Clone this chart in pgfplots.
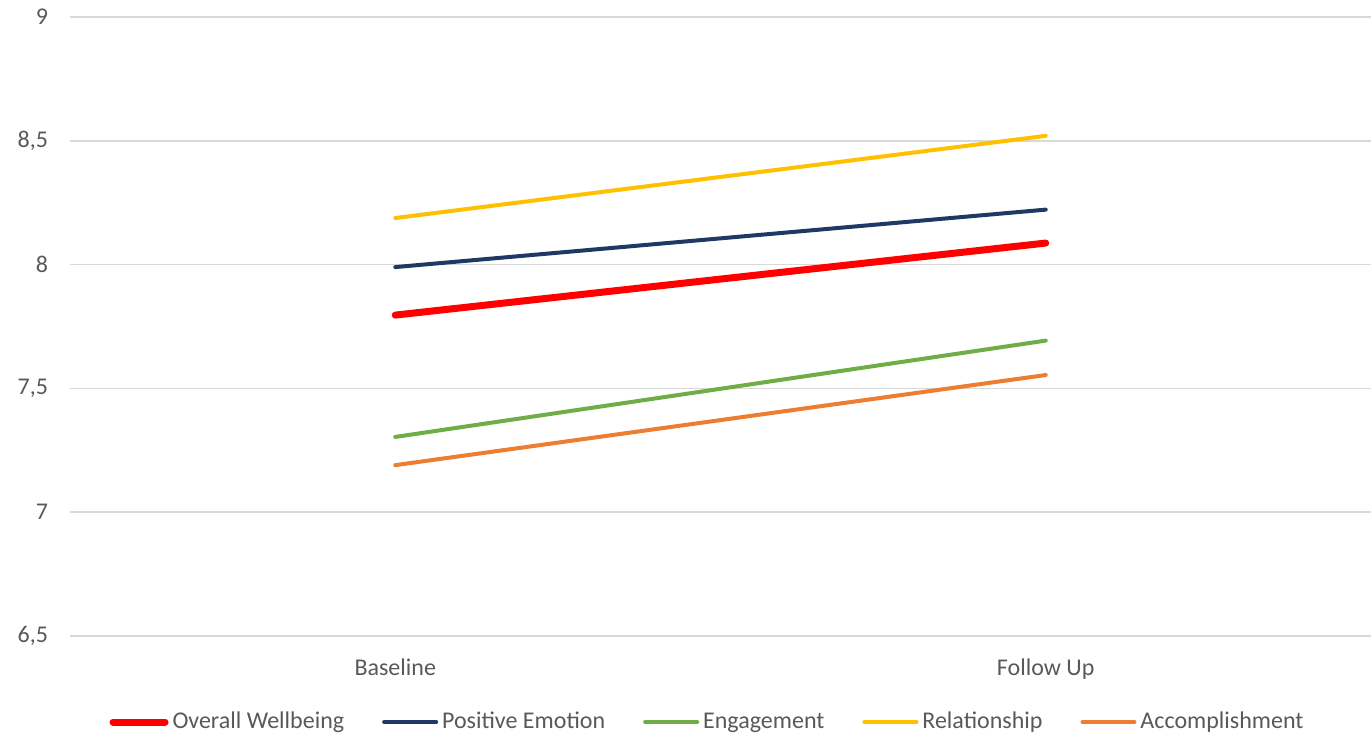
\documentclass[border=0pt]{standalone}
\usepackage{pgfplots}
\pgfplotsset{compat=1.18}
\usepackage{fontspec}
\setmainfont{Carlito}
\definecolor{txt}{HTML}{595959}
\definecolor{grd}{HTML}{D9D9D9}
\definecolor{cOver}{HTML}{FF0000}
\definecolor{cPos}{HTML}{1F3864}
\definecolor{cEng}{HTML}{70AD47}
\definecolor{cRel}{HTML}{FFC000}
\definecolor{cAcc}{HTML}{ED7D31}
\begin{document}
\begin{tikzpicture}
\begin{axis}[
  scale only axis,
  width=650.5pt, height=309.5pt,
  xmin=-0.5, xmax=1.5,
  ymin=6.5, ymax=9,
  ytick={6.5,7,7.5,8,8.5,9},
  xtick={0,1},
  xticklabels={Baseline,Follow Up},
  axis line style={draw=none},
  major tick length=0pt,
  ymajorgrids,
  grid style={grd, line width=0.8pt},
  tick label style={font=\fontsize{12}{14}\selectfont, text=txt},
  yticklabel style={xshift=-7.5pt},
  xticklabel style={yshift=-8pt},
  /pgf/number format/assume math mode=true,
  /pgf/number format/use comma,
  legend columns=5,
  legend style={draw=none, at={(0.5,-43pt)}, anchor=center, xshift=-6pt,
    font=\fontsize{12}{14}\selectfont, text=txt,
    /tikz/every even column/.append style={column sep=17pt},
    inner sep=0pt},
  legend image code/.code={\draw[#1, line cap=round] (0pt,0pt) -- (26pt,0pt);},
]
\addplot[cOver, line width=3.5pt, line cap=round] coordinates {(0,7.796) (1,8.087)};
\addlegendentry{Overall Wellbeing}
\addplot[cPos, line width=2pt, line cap=round] coordinates {(0,7.99) (1,8.222)};
\addlegendentry{Positive Emotion}
\addplot[cEng, line width=2pt, line cap=round] coordinates {(0,7.304) (1,7.693)};
\addlegendentry{Engagement}
\addplot[cRel, line width=2pt, line cap=round] coordinates {(0,8.188) (1,8.52)};
\addlegendentry{Relationship}
\addplot[cAcc, line width=2pt, line cap=round] coordinates {(0,7.19) (1,7.554)};
\addlegendentry{Accomplishment}
\end{axis}
\pgfresetboundingbox
\path[use as bounding box] (-35pt,-49pt) rectangle (650.5pt,318pt);
\end{tikzpicture}
\end{document}
